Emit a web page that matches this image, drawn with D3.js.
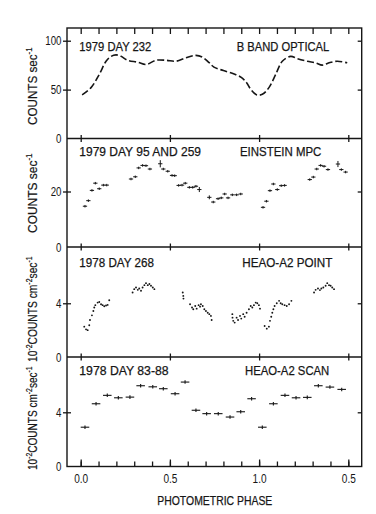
<!DOCTYPE html>
<html><head><meta charset="utf-8">
<script src="https://cdn.jsdelivr.net/npm/d3@7"></script>
<style>body{margin:0;background:#fff}</style>
</head><body>
<svg id="c" width="376" height="514"></svg>
<script>
// ---------- DATA ----------
const opticalPhase  = [0.008,0.058,0.104,0.142,0.17,0.198,0.226,0.263,0.32,0.366,0.422,0.478,0.534,0.59,0.646,0.684,0.72,0.747,0.80,0.86,0.90,0.93,0.953,0.987,1.018,1.055,1.093,1.13,1.177,1.214,1.27,1.317,1.354,1.392,1.438,1.494];
const opticalCounts = [44.6,52,65.5,79,84,85.5,84,80,78,75.7,80,80,79,82.5,85,83,77.5,73,69.5,66,62.5,57,50.3,44.6,45.2,52,65.5,79,84,81.7,79,77.4,75,77.4,79,77.4];

const mpcPhase = [0.024,0.043,0.063,0.082,0.104,0.127,0.146,0.282,0.306,0.325,0.347,0.366,0.388,0.446,0.463,0.488,0.512,0.527,0.549,0.568,0.586,0.609,0.628,0.646,0.665,0.721,0.743,0.77,0.788,0.807,0.826,0.85,0.874,0.897,1.022,1.041,1.061,1.08,1.102,1.124,1.143,1.284,1.304,1.323,1.345,1.364,1.386,1.442,1.461,1.485];
const mpcCounts = [14.7,16.7,20.4,23,21,22.3,22.3,24.5,25.3,28.5,29.4,29.3,28.1,30,28.1,27.3,25.8,25.7,22.2,22.3,23,21.5,21.5,21.9,20.7,17.9,16.2,17.4,17.7,19.1,17.7,18.8,18.8,19.1,14.3,16.5,20.3,22.7,20.7,22.1,22.2,24.3,25.2,28.1,29.4,29.1,27.9,29.9,27.9,27];
const mpcErr = [0.45,0.45,0.45,0.45,0.45,0.45,0.45,0.45,0.45,0.45,0.45,0.45,0.45,1.3,0.45,0.45,0.45,0.45,0.45,0.45,0.45,0.45,0.45,0.45,0.9,0.7,0.45,0.45,0.45,0.45,0.45,0.45,0.45,0.45,0.45,0.45,0.45,0.45,0.45,0.45,0.45,0.45,0.45,0.45,0.45,0.45,0.45,1.1,0.45,0.45];

const pointPhase = [0.020,0.030,0.039,0.048,0.052,0.063,0.071,0.076,0.082,0.095,0.104,0.114,0.123,0.132,0.142,0.151,0.160,
  0.291,0.300,0.310,0.320,0.328,0.338,0.347,0.357,0.366,0.376,0.385,0.394,0.404,0.413,
  0.572,0.575,0.576,0.613,0.624,0.631,0.642,0.650,0.661,0.669,0.674,0.684,0.693,0.702,0.712,0.721,0.730,0.734,
  0.850,0.851,0.855,0.863,0.874,0.882,0.893,0.900,0.911,0.919,0.930,0.943,0.953,0.962,0.971,0.981,0.990,0.999,1.005,
  1.031,1.043,1.055,1.061,1.068,1.074,1.080,1.087,1.099,1.112,1.121,1.130,1.143,1.155,1.168,1.181,
  1.308,1.317,1.330,1.341,1.349,1.360,1.373,1.382,1.392,1.401,1.410,1.420];
const pointFlux = [2.26,2.06,2.0,2.36,2.76,3.1,3.43,3.68,3.86,4.05,4.1,3.93,3.86,3.78,3.83,3.88,4.23,
  4.8,5.05,5.17,5.0,5.1,4.93,5.17,5.35,5.5,5.35,5.43,5.3,5.17,5.05,
  4.8,4.55,4.35,3.93,3.68,3.56,3.8,3.6,3.86,3.75,3.93,3.8,3.56,3.43,3.3,3.19,3.06,2.76,
  3.19,2.93,2.69,2.56,2.93,2.76,3.06,2.86,3.19,3.0,3.3,3.56,3.8,3.68,3.86,4.05,4.0,3.86,3.6,
  2.31,2.11,2.26,2.69,3.0,3.3,3.56,3.8,4.0,4.18,4.0,3.93,3.86,3.8,3.93,4.18,
  4.8,5.0,5.1,4.98,5.1,5.17,5.3,5.5,5.35,5.3,5.17,5.05];

const scanPhase = [0.024,0.086,0.149,0.211,0.276,0.336,0.404,0.463,0.529,0.585,0.646,0.706,0.771,0.837,0.897,0.958,1.018,1.08,1.145,1.207,1.27,1.332,1.397,1.463];
const scanFlux  = [2.9,4.63,5.25,5.07,5.12,5.96,5.88,5.74,5.37,6.23,4.15,3.9,3.9,3.65,4.04,5.0,2.9,4.63,5.25,5.07,5.1,5.96,5.86,5.69];

const leftTitles  = ["1979 DAY 232","1979 DAY 95 AND 259","1978 DAY 268","1978 DAY 83-88"];
const rightTitles = ["B BAND OPTICAL","EINSTEIN MPC","HEAO-A2 POINT","HEAO-A2 SCAN"];
const yTickValues = [[0,50,100],[0,20],[0,4],[0,4]];
const xMajorTicks = [0,0.5,1.0,1.5];
const xTickLabels = ["0.0","0.5","1.0","0.5"];
const xTitle = "PHOTOMETRIC PHASE";

// ---------- LAYOUT ----------
const FONT = "'Liberation Sans', Arial, Helvetica, sans-serif";
const INK = "#161616";
const svg = d3.select("#c");
svg.append("rect").attr("width",376).attr("height",514).attr("fill","#fff");

const x = d3.scaleLinear().domain([0,1.5]).range([80.7,348.3]);
const frameL = 67, frameR = 361.7;
const tops = [28,138.5,247,357], bottoms = [138.5,247,357,466.5];
const yMax = [113,39.1,8.19,8.08];
const ys = tops.map((t,i)=>d3.scaleLinear().domain([0,yMax[i]]).range([bottoms[i],t]));

// frame and dividers
svg.append("rect").attr("x",frameL).attr("y",tops[0]).attr("width",frameR-frameL).attr("height",bottoms[3]-tops[0])
  .attr("fill","none").attr("stroke",INK).attr("stroke-width",1.4);
bottoms.slice(0,3).forEach(b=>{
  svg.append("line").attr("x1",frameL).attr("x2",frameR).attr("y1",b).attr("y2",b).attr("stroke",INK).attr("stroke-width",1.4);
});

function styleAxis(g){
  g.select(".domain").remove();
  g.selectAll("line").attr("stroke",INK).attr("stroke-width",1.3);
  g.attr("font-family",FONT).attr("font-size",12);
  g.selectAll("text").attr("fill",INK);
}

// top ticks
const minorTicks = d3.range(0,16).map(i=>i/10);
svg.append("g").attr("transform",`translate(0,${tops[0]})`)
  .call(d3.axisTop(x).tickValues(minorTicks).tickSize(-6).tickFormat(""))
  .call(styleAxis);
// bottom ticks
svg.append("g").attr("transform",`translate(0,${bottoms[3]})`)
  .call(d3.axisBottom(x).tickValues(minorTicks).tickSize(-5).tickFormat(""))
  .call(styleAxis);
const bx = svg.append("g").attr("transform",`translate(0,${bottoms[3]})`)
  .call(d3.axisBottom(x).tickValues(xMajorTicks).tickSize(-7).tickFormat((d,i)=>xTickLabels[i]))
  .call(styleAxis);
bx.selectAll("text").attr("y",16.5).attr("dy",0).attr("textLength",14).attr("lengthAdjust","spacingAndGlyphs");
// divider ticks (crossing)
bottoms.slice(0,3).forEach(b=>{
  svg.append("g").attr("transform",`translate(0,${b})`)
    .call(d3.axisBottom(x).tickValues(xMajorTicks).tickSize(3.5).tickFormat(""))
    .call(styleAxis)
    .selectAll("line").attr("y1",-3.5);
});

// y axes
ys.forEach((y,i)=>{
  const gl = svg.append("g").attr("transform",`translate(${frameL},0)`)
    .call(d3.axisLeft(y).tickValues(yTickValues[i]).tickSize(4).tickPadding(1.5))
    .call(styleAxis);
  gl.selectAll("line").attr("x1",4).filter(d=>d===0).remove();
  gl.selectAll("text").attr("font-size",12.5).each(function(){
    const t = d3.select(this); t.attr("textLength", t.text().length*5.4).attr("lengthAdjust","spacingAndGlyphs");
  });
  const gr = svg.append("g").attr("transform",`translate(${frameR},0)`)
    .call(d3.axisLeft(y).tickValues(yTickValues[i].filter(v=>v>0)).tickSize(4).tickFormat(""))
    .call(styleAxis);
  gr.selectAll("line").attr("x2",-4);
});

// panel titles
const leftX = 79.3, rightXs = [236.7,240,242.3,245];
const baselines = [50.7,156.3,266.7,375];
const leftW = [72,121.7,74.6,89.3], rightW = [92.6,81.3,90,84.3];
leftTitles.forEach((t,i)=>{
  svg.append("text").attr("x",leftX).attr("y",baselines[i]).text(t)
    .attr("font-family",FONT).attr("font-size",12.5).attr("fill",INK)
    .attr("stroke",INK).attr("stroke-width",0.25)
    .attr("textLength",leftW[i]).attr("lengthAdjust","spacingAndGlyphs");
  svg.append("text").attr("x",rightXs[i]).attr("y",baselines[i]).text(rightTitles[i])
    .attr("font-family",FONT).attr("font-size",12.5).attr("fill",INK)
    .attr("stroke",INK).attr("stroke-width",0.25)
    .attr("textLength",rightW[i]).attr("lengthAdjust","spacingAndGlyphs");
});

// y titles (rotated)
const yTitleParts = [
  [["COUNTS sec",0],["-1",1]],
  [["COUNTS sec",0],["-1",1]],
  [["10",0],["-2",1],["COUNTS cm",0],["-2",1],["sec",0],["-1",1]],
  [["10",0],["-2",1],["COUNTS cm",0],["-2",1],["sec",0],["-1",1]]
];
const yTitleCenters = [86,193,309,418], yTitleLens = [78,80,106,104];
yTitleParts.forEach((parts,i)=>{
  const g = svg.append("g").attr("transform",`translate(36.5,${yTitleCenters[i]}) rotate(-90)`);
  const inner = g.append("g");
  const t = inner.append("text").attr("font-family",FONT).attr("font-size",12.5).attr("fill",INK)
    .attr("stroke",INK).attr("stroke-width",0.2);
  let up = false;
  parts.forEach(([s,sup])=>{
    const ts = t.append("tspan").text(s);
    if(sup){ ts.attr("font-size",8.5).attr("dy", up? 0 : -5); up = true; }
    else { if(up){ ts.attr("dy",5); up=false; } }
  });
  const bb = t.node().getBBox();
  const sx = yTitleLens[i]/bb.width;
  inner.attr("transform",`scale(${sx},1) translate(${-bb.x-bb.width/2},0)`);
});

// x title
svg.append("text").attr("x",214.8).attr("y",505).attr("text-anchor","middle").text(xTitle)
  .attr("font-family",FONT).attr("font-size",12.5).attr("fill",INK).attr("stroke",INK).attr("stroke-width",0.25)
  .attr("textLength",115).attr("lengthAdjust","spacingAndGlyphs");

// ---------- MARKS ----------
// panel 1: dashed smooth curve
const line1 = d3.line().x(d=>x(d[0])).y(d=>ys[0](d[1])).curve(d3.curveCatmullRom.alpha(0.5));
svg.append("path").datum(opticalPhase.map((p,i)=>[p,opticalCounts[i]]))
  .attr("d",line1).attr("fill","none").attr("stroke",INK).attr("stroke-width",1.6)
  .attr("stroke-dasharray","7,2.8");

// panel 2: error crosses
const g2 = svg.append("g").attr("stroke",INK).attr("stroke-width",1);
mpcPhase.forEach((p,i)=>{
  const v = mpcCounts[i], e = mpcErr[i];
  g2.append("line").attr("x1",x(p-0.012)).attr("x2",x(p+0.012)).attr("y1",ys[1](v)).attr("y2",ys[1](v));
  g2.append("line").attr("x1",x(p)).attr("x2",x(p)).attr("y1",ys[1](v-e)).attr("y2",ys[1](v+e));
});

// panel 3: dots
svg.append("g").selectAll("circle").data(pointPhase.map((p,i)=>[p,pointFlux[i]])).join("circle")
  .attr("cx",d=>x(d[0])).attr("cy",d=>ys[2](d[1])).attr("r",0.95).attr("fill",INK);

// panel 4: crosses
const g4 = svg.append("g").attr("stroke",INK).attr("stroke-width",1.1);
scanPhase.forEach((p,i)=>{
  const v = scanFlux[i];
  g4.append("line").attr("x1",x(p-0.024)).attr("x2",x(p+0.024)).attr("y1",ys[3](v)).attr("y2",ys[3](v));
  g4.append("line").attr("x1",x(p)).attr("x2",x(p)).attr("y1",ys[3](v-0.13)).attr("y2",ys[3](v+0.13));
});
</script>
</body></html>
